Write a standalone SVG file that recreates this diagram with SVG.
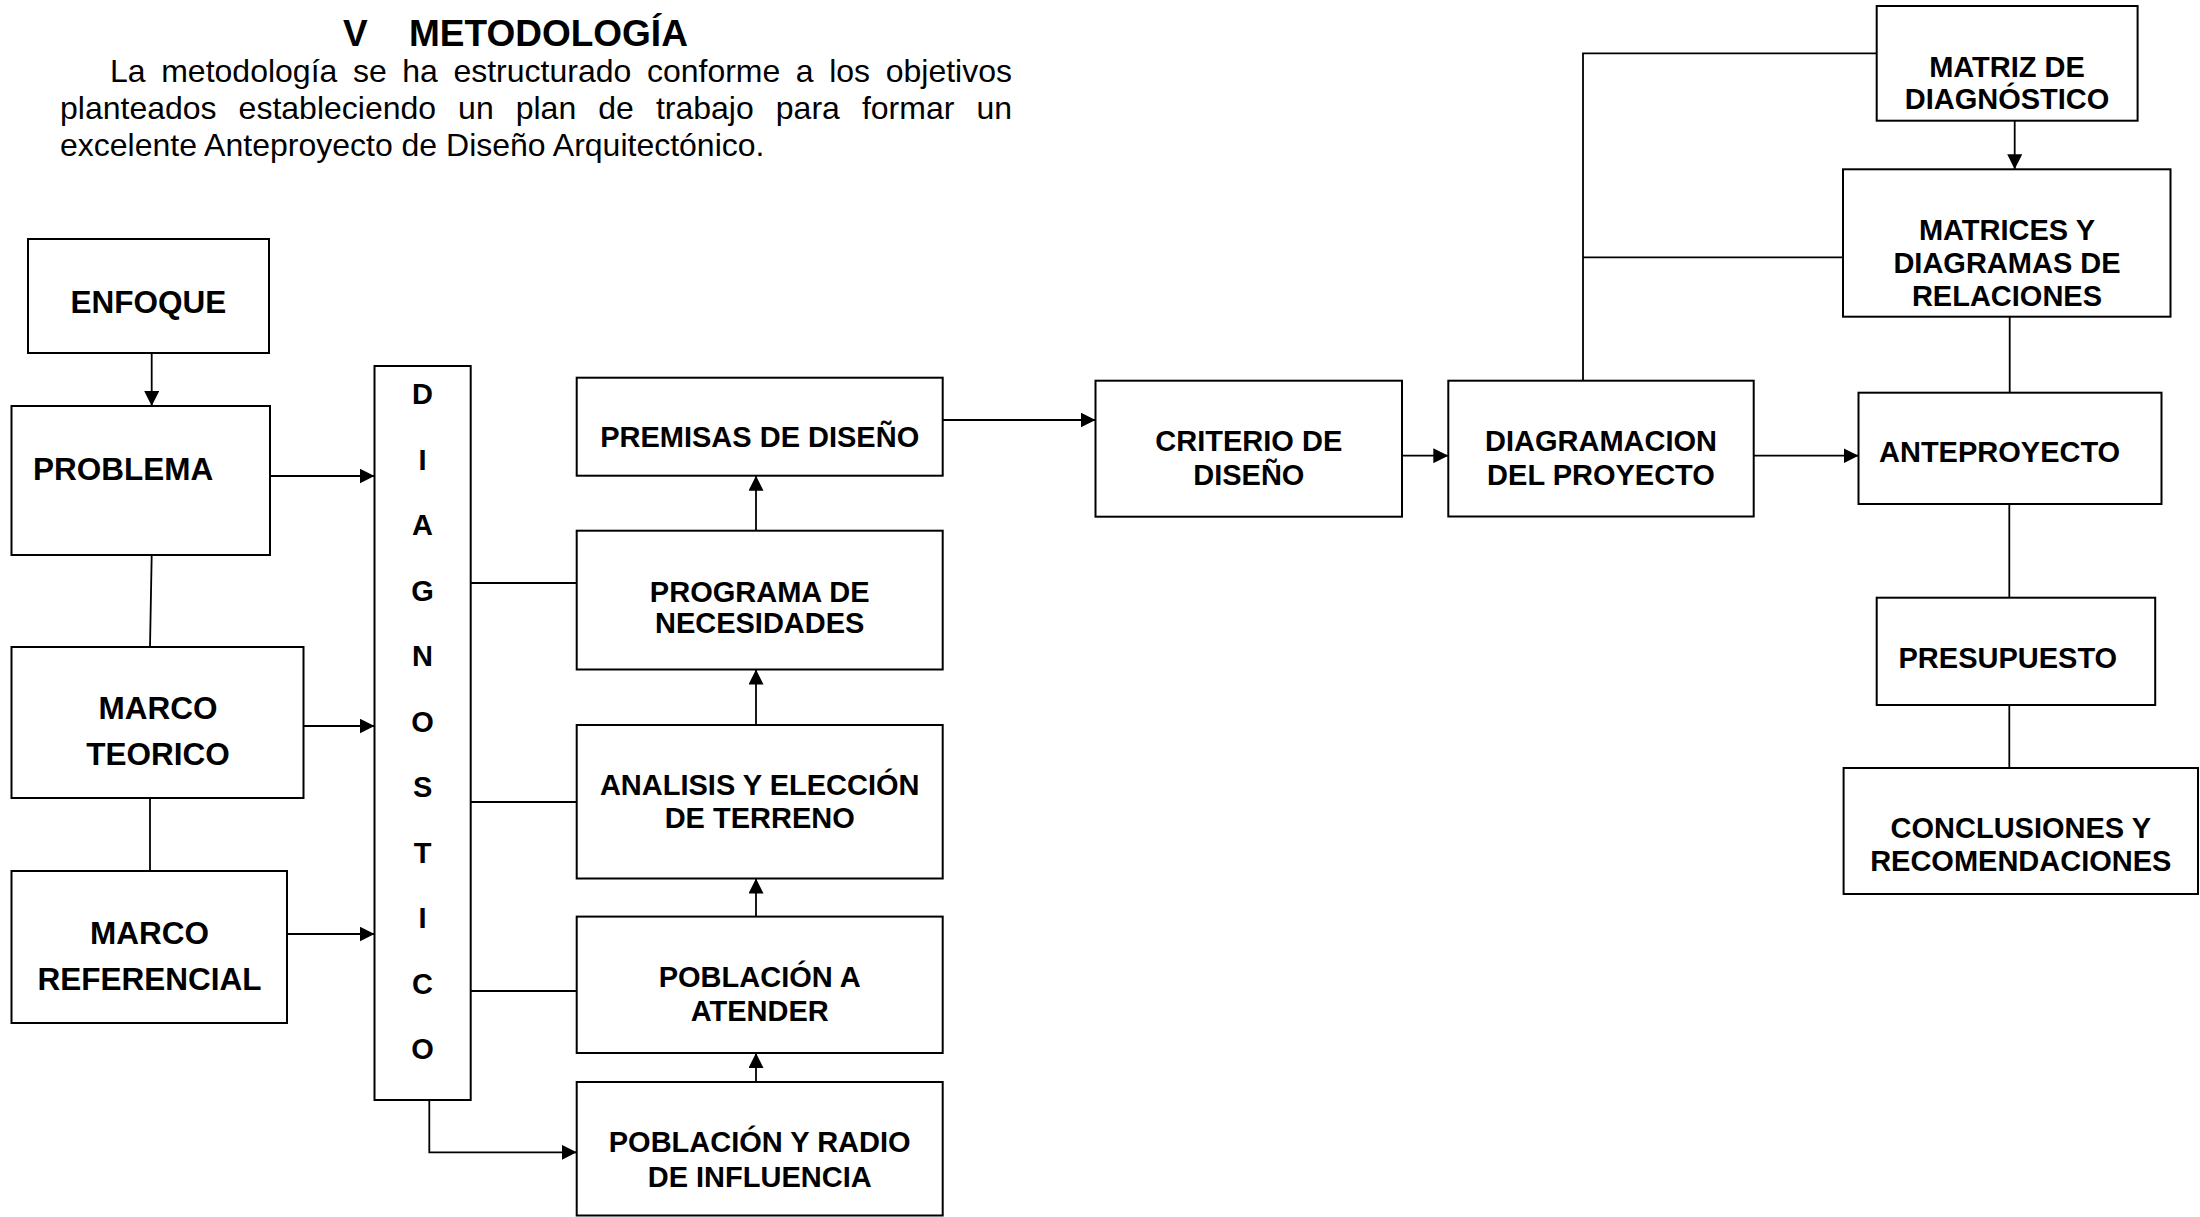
<svg xmlns="http://www.w3.org/2000/svg" width="2200" height="1217" viewBox="0 0 2200 1217">
<style>
.box{fill:#fff;stroke:#000;stroke-width:2}
.t{font-family:"Liberation Sans",Arial,sans-serif;font-weight:bold;fill:#000}
.s{font-size:29px;text-anchor:middle}
.b{font-size:31.5px;text-anchor:middle}
.conn{stroke:#000;stroke-width:1.8;fill:none}
.arr{marker-end:url(#ah)}
.p{font-family:"Liberation Sans",Arial,sans-serif;font-size:32px;fill:#000}
</style>
<defs>
<marker id="ah" markerUnits="userSpaceOnUse" markerWidth="16" markerHeight="15" refX="15" refY="7.5" orient="auto">
<path d="M0,0 L15,7.5 L0,15 Z" fill="#000"/>
</marker>
</defs>
<rect width="2200" height="1217" fill="#fff"/>
<g id="title">
<text class="t" x="343" y="46" font-size="37">V</text>
<text class="t" x="409" y="46" font-size="37">METODOLOGÍA</text>
</g>
<g id="paragraph">
<text class="p" y="82"><tspan x="110">La</tspan><tspan x="161.2">metodología</tspan><tspan x="352.9">se</tspan><tspan x="402.2">ha</tspan><tspan x="453.4">estructurado</tspan><tspan x="646.9">conforme</tspan><tspan x="795.8">a</tspan><tspan x="829.2">los</tspan><tspan x="885.7">objetivos</tspan></text>
<text class="p" y="119"><tspan x="60">planteados</tspan><tspan x="238.6">estableciendo</tspan><tspan x="458.1">un</tspan><tspan x="515.7">plan</tspan><tspan x="598.3">de</tspan><tspan x="655.9">trabajo</tspan><tspan x="775.8">para</tspan><tspan x="861.9">formar</tspan><tspan x="976.4">un</tspan></text>
<text class="p" x="60" y="156">excelente Anteproyecto de Diseño Arquitectónico.</text>
</g>
<g id="connectors">
<line class="conn arr" x1="151.7" y1="353" x2="151.7" y2="406"/>
<line class="conn arr" x1="270" y1="476" x2="374.5" y2="476"/>
<line class="conn" x1="151.7" y1="555" x2="150" y2="647"/>
<line class="conn arr" x1="303.6" y1="726" x2="374.5" y2="726"/>
<line class="conn" x1="150" y1="798" x2="150" y2="871"/>
<line class="conn arr" x1="287" y1="934" x2="374.5" y2="934"/>
<line class="conn" x1="470.7" y1="583" x2="576.7" y2="583"/>
<line class="conn" x1="470.7" y1="802" x2="576.7" y2="802"/>
<line class="conn" x1="470.7" y1="991" x2="576.7" y2="991"/>
<path class="conn arr" d="M429.3,1100 V1152.3 H576.7"/>
<line class="conn arr" x1="756" y1="1082" x2="756" y2="1053"/>
<line class="conn arr" x1="756" y1="916.6" x2="756" y2="878.5"/>
<line class="conn arr" x1="756" y1="725" x2="756" y2="669.5"/>
<line class="conn arr" x1="756" y1="530.7" x2="756" y2="475.7"/>
<line class="conn arr" x1="942.7" y1="420" x2="1095.5" y2="420"/>
<line class="conn arr" x1="1402" y1="455.7" x2="1448.3" y2="455.7"/>
<line class="conn arr" x1="1753.7" y1="455.7" x2="1858.5" y2="455.7"/>
<path class="conn" d="M1583,380.7 V53.3 H1876.7"/>
<line class="conn" x1="1583" y1="257.3" x2="1843" y2="257.3"/>
<line class="conn arr" x1="2014.7" y1="120.7" x2="2014.7" y2="169.3"/>
<line class="conn" x1="2009.7" y1="316.7" x2="2009.7" y2="392.7"/>
<line class="conn" x1="2009.3" y1="504" x2="2009.3" y2="597.7"/>
<line class="conn" x1="2009.3" y1="705" x2="2009.3" y2="768"/>
</g>
<g id="enfoque">
<rect class="box" x="28" y="239" width="241" height="114"/>
<text class="t b" x="148.5" y="313.3">ENFOQUE</text>
</g>
<g id="problema">
<rect class="box" x="11.5" y="406" width="258.5" height="149"/>
<text class="t" x="33" y="480" font-size="31.5">PROBLEMA</text>
</g>
<g id="marco-teorico">
<rect class="box" x="11.5" y="647" width="292" height="151"/>
<text class="t b" x="158" y="719">MARCO</text>
<text class="t b" x="158" y="765">TEORICO</text>
</g>
<g id="marco-referencial">
<rect class="box" x="11.5" y="871" width="275.5" height="152"/>
<text class="t b" x="149.5" y="944">MARCO</text>
<text class="t b" x="149.5" y="990">REFERENCIAL</text>
</g>
<g id="diagnostico">
<rect class="box" x="374.5" y="366" width="96.2" height="734"/>
<text class="t s" x="422.6" y="404">D</text>
<text class="t s" x="422.6" y="469.5">I</text>
<text class="t s" x="422.6" y="535">A</text>
<text class="t s" x="422.6" y="600.5">G</text>
<text class="t s" x="422.6" y="666">N</text>
<text class="t s" x="422.6" y="731.5">O</text>
<text class="t s" x="422.6" y="797">S</text>
<text class="t s" x="422.6" y="862.5">T</text>
<text class="t s" x="422.6" y="928">I</text>
<text class="t s" x="422.6" y="993.5">C</text>
<text class="t s" x="422.6" y="1059">O</text>
</g>
<g id="premisas">
<rect class="box" x="576.7" y="377.7" width="366" height="98"/>
<text class="t s" x="759.7" y="446.7">PREMISAS DE DISEÑO</text>
</g>
<g id="programa">
<rect class="box" x="576.7" y="530.7" width="366" height="138.8"/>
<text class="t s" x="759.7" y="601.5">PROGRAMA DE</text>
<text class="t s" x="759.7" y="633">NECESIDADES</text>
</g>
<g id="analisis">
<rect class="box" x="576.7" y="725" width="366" height="153.5"/>
<text class="t s" x="759.7" y="795">ANALISIS Y ELECCIÓN</text>
<text class="t s" x="759.7" y="828.2">DE TERRENO</text>
</g>
<g id="poblacion-atender">
<rect class="box" x="576.7" y="916.6" width="366" height="136.4"/>
<text class="t s" x="759.7" y="986.7">POBLACIÓN A</text>
<text class="t s" x="759.7" y="1021">ATENDER</text>
</g>
<g id="poblacion-radio">
<rect class="box" x="576.7" y="1082" width="366" height="133.5"/>
<text class="t s" x="759.7" y="1152">POBLACIÓN Y RADIO</text>
<text class="t s" x="759.7" y="1186.7">DE INFLUENCIA</text>
</g>
<g id="criterio">
<rect class="box" x="1095.5" y="380.7" width="306.5" height="136"/>
<text class="t s" x="1248.8" y="450.6">CRITERIO DE</text>
<text class="t s" x="1248.8" y="484.5">DISEÑO</text>
</g>
<g id="diagramacion">
<rect class="box" x="1448.3" y="380.7" width="305.4" height="135.8"/>
<text class="t s" x="1601" y="450.7">DIAGRAMACION</text>
<text class="t s" x="1601" y="485">DEL PROYECTO</text>
</g>
<g id="matriz">
<rect class="box" x="1876.7" y="6" width="260.9" height="114.7"/>
<text class="t s" x="2007" y="77.3">MATRIZ DE</text>
<text class="t s" x="2007" y="109.3">DIAGNÓSTICO</text>
</g>
<g id="matrices">
<rect class="box" x="1843" y="169.3" width="327.5" height="147.4"/>
<text class="t s" x="2007" y="240">MATRICES Y</text>
<text class="t s" x="2007" y="272.7">DIAGRAMAS DE</text>
<text class="t s" x="2007" y="306">RELACIONES</text>
</g>
<g id="anteproyecto">
<rect class="box" x="1858.5" y="392.7" width="303" height="111.3"/>
<text class="t" x="1879" y="462" font-size="29">ANTEPROYECTO</text>
</g>
<g id="presupuesto">
<rect class="box" x="1876.7" y="597.7" width="278.5" height="107.3"/>
<text class="t" x="1898.5" y="667.6" font-size="29">PRESUPUESTO</text>
</g>
<g id="conclusiones">
<rect class="box" x="1843.6" y="768" width="354.4" height="126"/>
<text class="t s" x="2020.8" y="838">CONCLUSIONES Y</text>
<text class="t s" x="2020.8" y="871">RECOMENDACIONES</text>
</g>
</svg>
